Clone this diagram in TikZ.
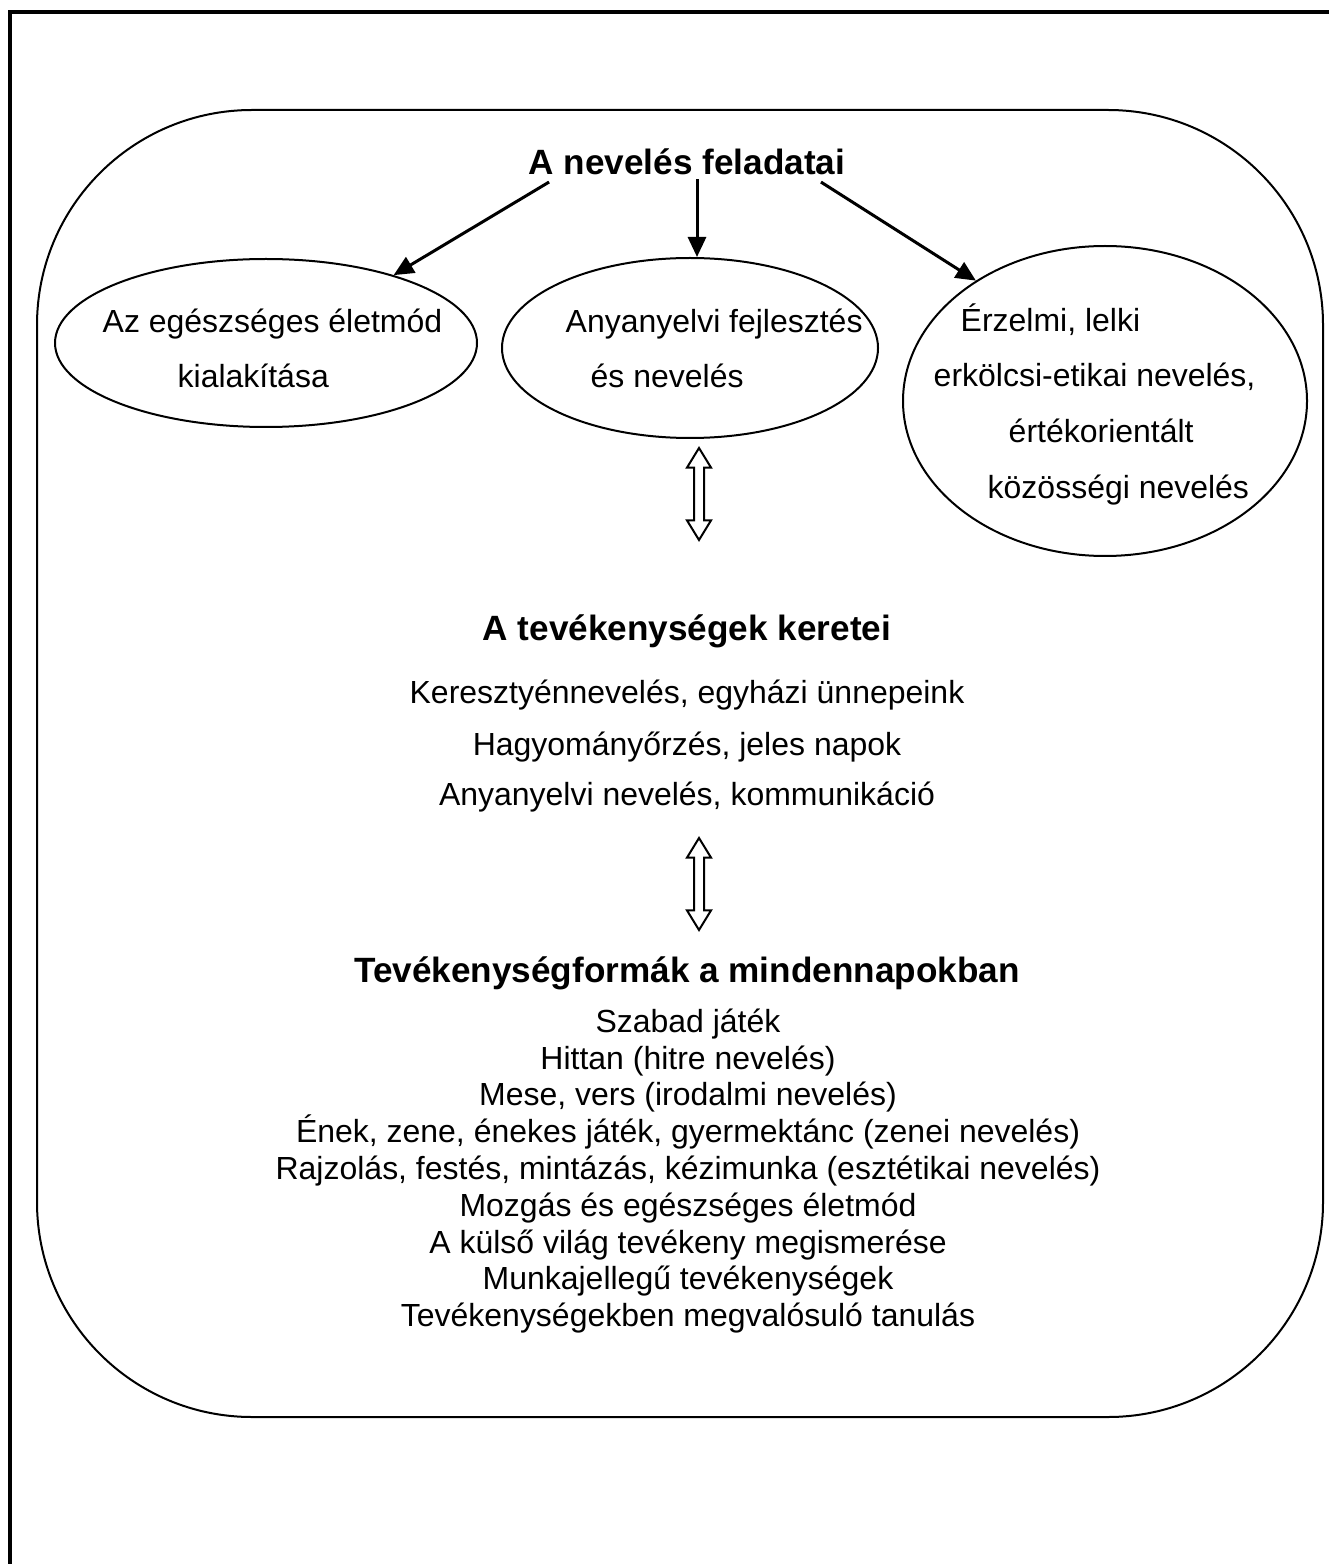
\documentclass[tikz,border=0pt]{standalone}
\usepackage{fontspec}
\setmainfont{Liberation Sans}
\usepackage{xcolor}
\usepackage{tikz}
\usetikzlibrary{shapes,arrows.meta,positioning}

\tikzset{
    ell/.style={draw, ellipse, line width=0.2mm, inner sep=0pt},
    txt/.style={inner sep=0pt, anchor=base west},
    ctr/.style={inner sep=0pt, anchor=base},
    head/.style={ctr, font=\bfseries},
    feed/.style={-{Triangle[length=2mm,width=1.8mm]}, line width=0.3mm},
    twoway/.style={draw, double arrow, shape border rotate=90,
        line width=0.2mm, inner sep=0.4mm,
        double arrow head extend=0.7mm, double arrow tip angle=63,
        minimum height=9.2mm}
}

\begin{document}
\begin{tikzpicture}[x=0.1mm, y=-0.1mm, font=\fontsize{9.1}{10.47}\selectfont]
                \useasboundingbox (0,0) rectangle (1328,1564);

                % page frame
                \draw[
                    line width=0.4mm
                ] (10,1600) -- (10,12) -- (1360,12);

                \draw[
                    line width=0.2mm,
                    rounded corners=21.5mm
                ] (37,110) rectangle (1323,1417);

                % feladatok
                \node[head] (tasks) at (687,175) {A nevelés feladatai};

                \node[ell, minimum width=42.2mm, minimum height=16.8mm] (health) at (266,343) {};
                \node[txt] (health1) at (102,333) {Az egészséges életmód};
                \node[txt] (health2) at (177,388) {kialakítása};

                \node[ell, minimum width=37.6mm, minimum height=18mm] (lang) at (690,348) {};
                \node[txt] (lang1) at (565,333) {Anyanyelvi fejlesztés};
                \node[txt] (lang2) at (590,388) {és nevelés};

                \node[ell, minimum width=40.4mm, minimum height=31mm] (ethic) at (1105,401) {};
                \node[txt] (ethic1) at (960,332) {Érzelmi, lelki};
                \node[txt] (ethic2) at (933,387) {erkölcsi-etikai nevelés,};
                \node[txt] (ethic3) at (1008,443) {értékorientált};
                \node[txt] (ethic4) at (987,498) {közösségi nevelés};

                \draw[feed] ([xshift=2.1mm,yshift=-0.6mm]tasks.south west) -- (health.28);
                \draw[feed] ([xshift=1mm,yshift=-0.3mm]tasks.south) -- ([xshift=1mm]tasks.south |- lang.north);
                \draw[feed] ([xshift=-2.5mm,yshift=-0.6mm]tasks.south east) -- (ethic.137);

                \node[twoway] (link1) at (699,494) {};

                % keretek
                \node[head] (frames) at (687,640) {A tevékenységek keretei};
                \node[ctr] (frame1) at (687,703) {Keresztyénnevelés, egyházi ünnepeink};
                \node[ctr] (frame2) at (687,755) {Hagyományőrzés, jeles napok};
                \node[ctr] (frame3) at (687,805) {Anyanyelvi nevelés, kommunikáció};

                \node[twoway] (link2) at (699,884) {};

                % formak
                \node[head] (forms) at (687,982) {Tevékenységformák a mindennapokban};
                \node[inner sep=0pt, anchor=north, align=center] (formlist) at (688,1008) {Szabad játék\\
                    Hittan (hitre nevelés)\\
                    Mese, vers (irodalmi nevelés)\\
                    Ének, zene, énekes játék, gyermektánc (zenei nevelés)\\
                    Rajzolás, festés, mintázás, kézimunka (esztétikai nevelés)\\
                    Mozgás és egészséges életmód\\
                    A külső világ tevékeny megismerése\\
                    Munkajellegű tevékenységek\\
                    Tevékenységekben megvalósuló tanulás};

            \end{tikzpicture}
\end{document}
